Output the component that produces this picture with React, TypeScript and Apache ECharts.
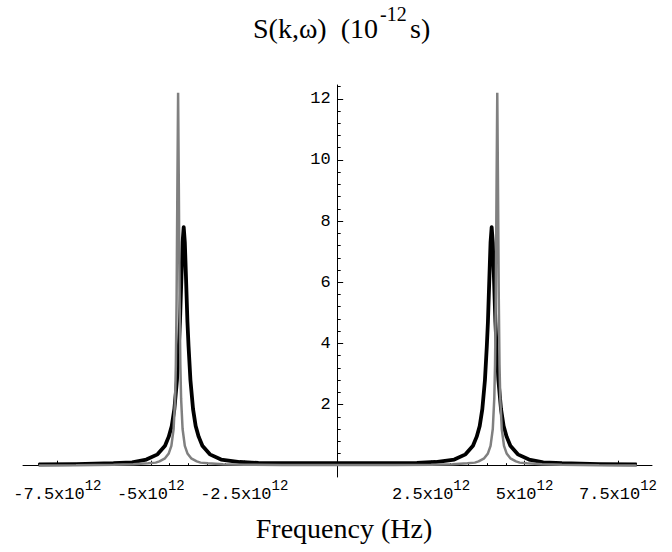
import React, { useEffect, useRef } from 'react';
import * as echarts from 'echarts';

// Black (thick) curve: x in units of 1e12 Hz, y in units of 1e-12 s
const xBlack = [-8, -7, -6, -5.5, -5.12, -4.82, -4.62, -4.52, -4.44, -4.37, -4.3, -4.25, -4.22, -4.18, -4.15, -4.12, -4.09, -4.06, -4.02, -3.99, -3.94, -3.87, -3.8, -3.72, -3.62, -3.42, -3.12, -2.62, -2.12, -1.12, 0, 1.12, 2.12, 2.62, 3.12, 3.42, 3.62, 3.72, 3.8, 3.87, 3.94, 3.99, 4.02, 4.06, 4.09, 4.12, 4.15, 4.18, 4.22, 4.25, 4.3, 4.37, 4.44, 4.52, 4.62, 4.82, 5.12, 5.5, 6, 7, 8];
const yBlack = [0.04, 0.05, 0.08, 0.11, 0.2, 0.37, 0.65, 0.95, 1.3, 1.85, 2.8, 3.9, 4.7, 6.2, 7.3, 7.8, 7.3, 6.2, 4.7, 3.9, 2.8, 1.85, 1.3, 0.95, 0.65, 0.37, 0.2, 0.12, 0.09, 0.08, 0.08, 0.08, 0.09, 0.12, 0.2, 0.37, 0.65, 0.95, 1.3, 1.85, 2.8, 3.9, 4.7, 6.2, 7.3, 7.8, 7.3, 6.2, 4.7, 3.9, 2.8, 1.85, 1.3, 0.95, 0.65, 0.37, 0.2, 0.11, 0.08, 0.05, 0.04];

// Gray (thin) curve
const xGray = [-8, -7, -6, -5.47, -5.07, -4.87, -4.77, -4.62, -4.52, -4.45, -4.39, -4.35, -4.33, -4.31, -4.29, -4.27, -4.25, -4.23, -4.21, -4.19, -4.15, -4.09, -4.02, -3.92, -3.77, -3.67, -3.47, -3.07, -2.5, -1.5, 0, 1.5, 2.5, 3.07, 3.47, 3.67, 3.77, 3.92, 4.02, 4.09, 4.15, 4.19, 4.21, 4.23, 4.25, 4.27, 4.29, 4.31, 4.33, 4.35, 4.39, 4.45, 4.52, 4.62, 4.77, 4.87, 5.07, 5.47, 6, 7, 8];
const yGray = [0.01, 0.015, 0.03, 0.05, 0.08, 0.1, 0.14, 0.24, 0.4, 0.65, 1.2, 2.2, 3.3, 5.5, 9.0, 12.2, 9.0, 5.5, 3.3, 2.2, 1.2, 0.65, 0.4, 0.24, 0.14, 0.1, 0.08, 0.05, 0.03, 0.02, 0.02, 0.02, 0.03, 0.05, 0.08, 0.1, 0.14, 0.24, 0.4, 0.65, 1.2, 2.2, 3.3, 5.5, 9.0, 12.2, 9.0, 5.5, 3.3, 2.2, 1.2, 0.65, 0.4, 0.24, 0.14, 0.1, 0.08, 0.05, 0.03, 0.015, 0.01];

// Ticks and labels
const xMajorTicks = [-7.5, -5, -2.5, 2.5, 5, 7.5];
const xTickMantissas = ['-7.5x10', '-5x10', '-2.5x10', '2.5x10', '5x10', '7.5x10'];
const xTickExponent = '12';
const xMinorTicks = [-8, -7, -6.5, -6, -5.5, -4.5, -4, -3.5, -3, -2, -1.5, -1, -0.5, 0.5, 1, 1.5, 2, 3, 3.5, 4, 4.5, 5.5, 6, 6.5, 7, 8];
const yMajorTicks = [2, 4, 6, 8, 10, 12];
const yMinorTicks = [0.4, 0.8, 1.2, 1.6, 2.4, 2.8, 3.2, 3.6, 4.4, 4.8, 5.2, 5.6, 6.4, 6.8, 7.2, 7.6, 8.4, 8.8, 9.2, 9.6, 10.4, 10.8, 11.2, 11.6, 12.4];

const X_MIN = -8.42;
const X_MAX = 8.41;
const Y_MIN = -0.37;
const Y_MAX = 12.45;

const GRID_LEFT = 23;
const GRID_RIGHT = 20;
const GRID_TOP = 85;
const GRID_BOTTOM = 75;
const W = 672;
const H = 552;

const MONO = '"Liberation Mono", "DejaVu Sans Mono", monospace';
const SERIF = '"Liberation Serif", "DejaVu Serif", serif';

export default function App() {
  const ref = useRef<HTMLDivElement>(null);
  useEffect(() => {
    if (!ref.current) return;
    const chart = echarts.init(ref.current, undefined, { renderer: 'svg' });
    const axisLineStyle = { color: '#000', width: 1 };
    // place the axes through the origin (x = 0, y = 0)
    const gw = W - GRID_LEFT - GRID_RIGHT;
    const gh = H - GRID_TOP - GRID_BOTTOM;
    const yAxisOffset = -((0 - X_MIN) / (X_MAX - X_MIN)) * gw;
    const xAxisOffset = -((0 - Y_MIN) / (Y_MAX - Y_MIN)) * gh;

    const option: any = {
      animation: false,
      backgroundColor: '#fff',
      grid: { left: GRID_LEFT, right: GRID_RIGHT, top: GRID_TOP, bottom: GRID_BOTTOM, containLabel: false },
      xAxis: [
        {
          type: 'value', position: 'bottom', offset: xAxisOffset, min: X_MIN, max: X_MAX,
          axisLine: { show: true, onZero: false, lineStyle: axisLineStyle },
          axisTick: { show: true, inside: true, length: 5, customValues: xMajorTicks, lineStyle: axisLineStyle },
          axisLabel: {
            show: true, customValues: xMajorTicks, margin: 13,
            formatter: (v: number) => {
              const i = xMajorTicks.findIndex((t) => Math.abs(t - v) < 1e-6);
              return `{b|${i >= 0 ? xTickMantissas[i] : ''}}{s|${xTickExponent}}`;
            },
            rich: {
              b: { fontFamily: MONO, fontSize: 17, color: '#000', verticalAlign: 'bottom', lineHeight: 24 },
              s: { fontFamily: MONO, fontSize: 14, color: '#000', verticalAlign: 'top', lineHeight: 14 },
            },
          },
          splitLine: { show: false },
        },
        {
          type: 'value', position: 'bottom', offset: xAxisOffset, min: X_MIN, max: X_MAX,
          axisLine: { show: false, onZero: false },
          axisTick: { show: true, inside: true, length: 2.5, customValues: xMinorTicks, lineStyle: axisLineStyle },
          axisLabel: { show: false },
          splitLine: { show: false },
        },
      ],
      yAxis: [
        {
          type: 'value', position: 'left', offset: yAxisOffset, min: Y_MIN, max: Y_MAX,
          axisLine: { show: true, onZero: false, lineStyle: axisLineStyle },
          axisTick: { show: true, inside: true, length: 5.5, customValues: yMajorTicks, lineStyle: axisLineStyle },
          axisLabel: {
            show: true, customValues: yMajorTicks, margin: 7,
            fontFamily: MONO, fontSize: 17, color: '#000',
            formatter: (v: number) => String(Math.round(v)),
          },
          splitLine: { show: false },
        },
        {
          type: 'value', position: 'left', offset: yAxisOffset, min: Y_MIN, max: Y_MAX,
          axisLine: { show: false, onZero: false },
          axisTick: { show: true, inside: true, length: 3, customValues: yMinorTicks, lineStyle: axisLineStyle },
          axisLabel: { show: false },
          splitLine: { show: false },
        },
      ],
      series: [
        {
          type: 'line', xAxisIndex: 0, yAxisIndex: 0,
          data: xBlack.map((x, i) => [x, yBlack[i]]),
          showSymbol: false, symbol: 'none',
          lineStyle: { color: '#000', width: 3.8, join: 'round' },
          z: 3,
        },
        {
          type: 'line', xAxisIndex: 0, yAxisIndex: 0,
          data: xGray.map((x, i) => [x, yGray[i]]),
          showSymbol: false, symbol: 'none',
          lineStyle: { color: '#808080', width: 2.5 },
          z: 4,
        },
      ],
      graphic: [
        {
          type: 'text', x: 378, y: 28,
          style: { text: 'S(k,ω)  (10', font: `28px ${SERIF}`, fill: '#000', align: 'right', verticalAlign: 'middle', textAlign: 'right', textVerticalAlign: 'middle' },
        },
        {
          type: 'text', x: 380, y: 14,
          style: { text: '-12', font: `20px ${SERIF}`, fill: '#000', align: 'left', verticalAlign: 'middle', textAlign: 'left', textVerticalAlign: 'middle' },
        },
        {
          type: 'text', x: 410, y: 28,
          style: { text: 's)', font: `28px ${SERIF}`, fill: '#000', align: 'left', verticalAlign: 'middle', textAlign: 'left', textVerticalAlign: 'middle' },
        },
        {
          type: 'text', x: 344, y: 528,
          style: { text: 'Frequency (Hz)', font: `28px ${SERIF}`, fill: '#000', align: 'center', verticalAlign: 'middle', textAlign: 'center', textVerticalAlign: 'middle' },
        },
      ],
    };
    chart.setOption(option);
    return () => chart.dispose();
  }, []);
  return <div ref={ref} style={{ position: 'absolute', left: 0, top: 0, width: W, height: H }} />;
}
